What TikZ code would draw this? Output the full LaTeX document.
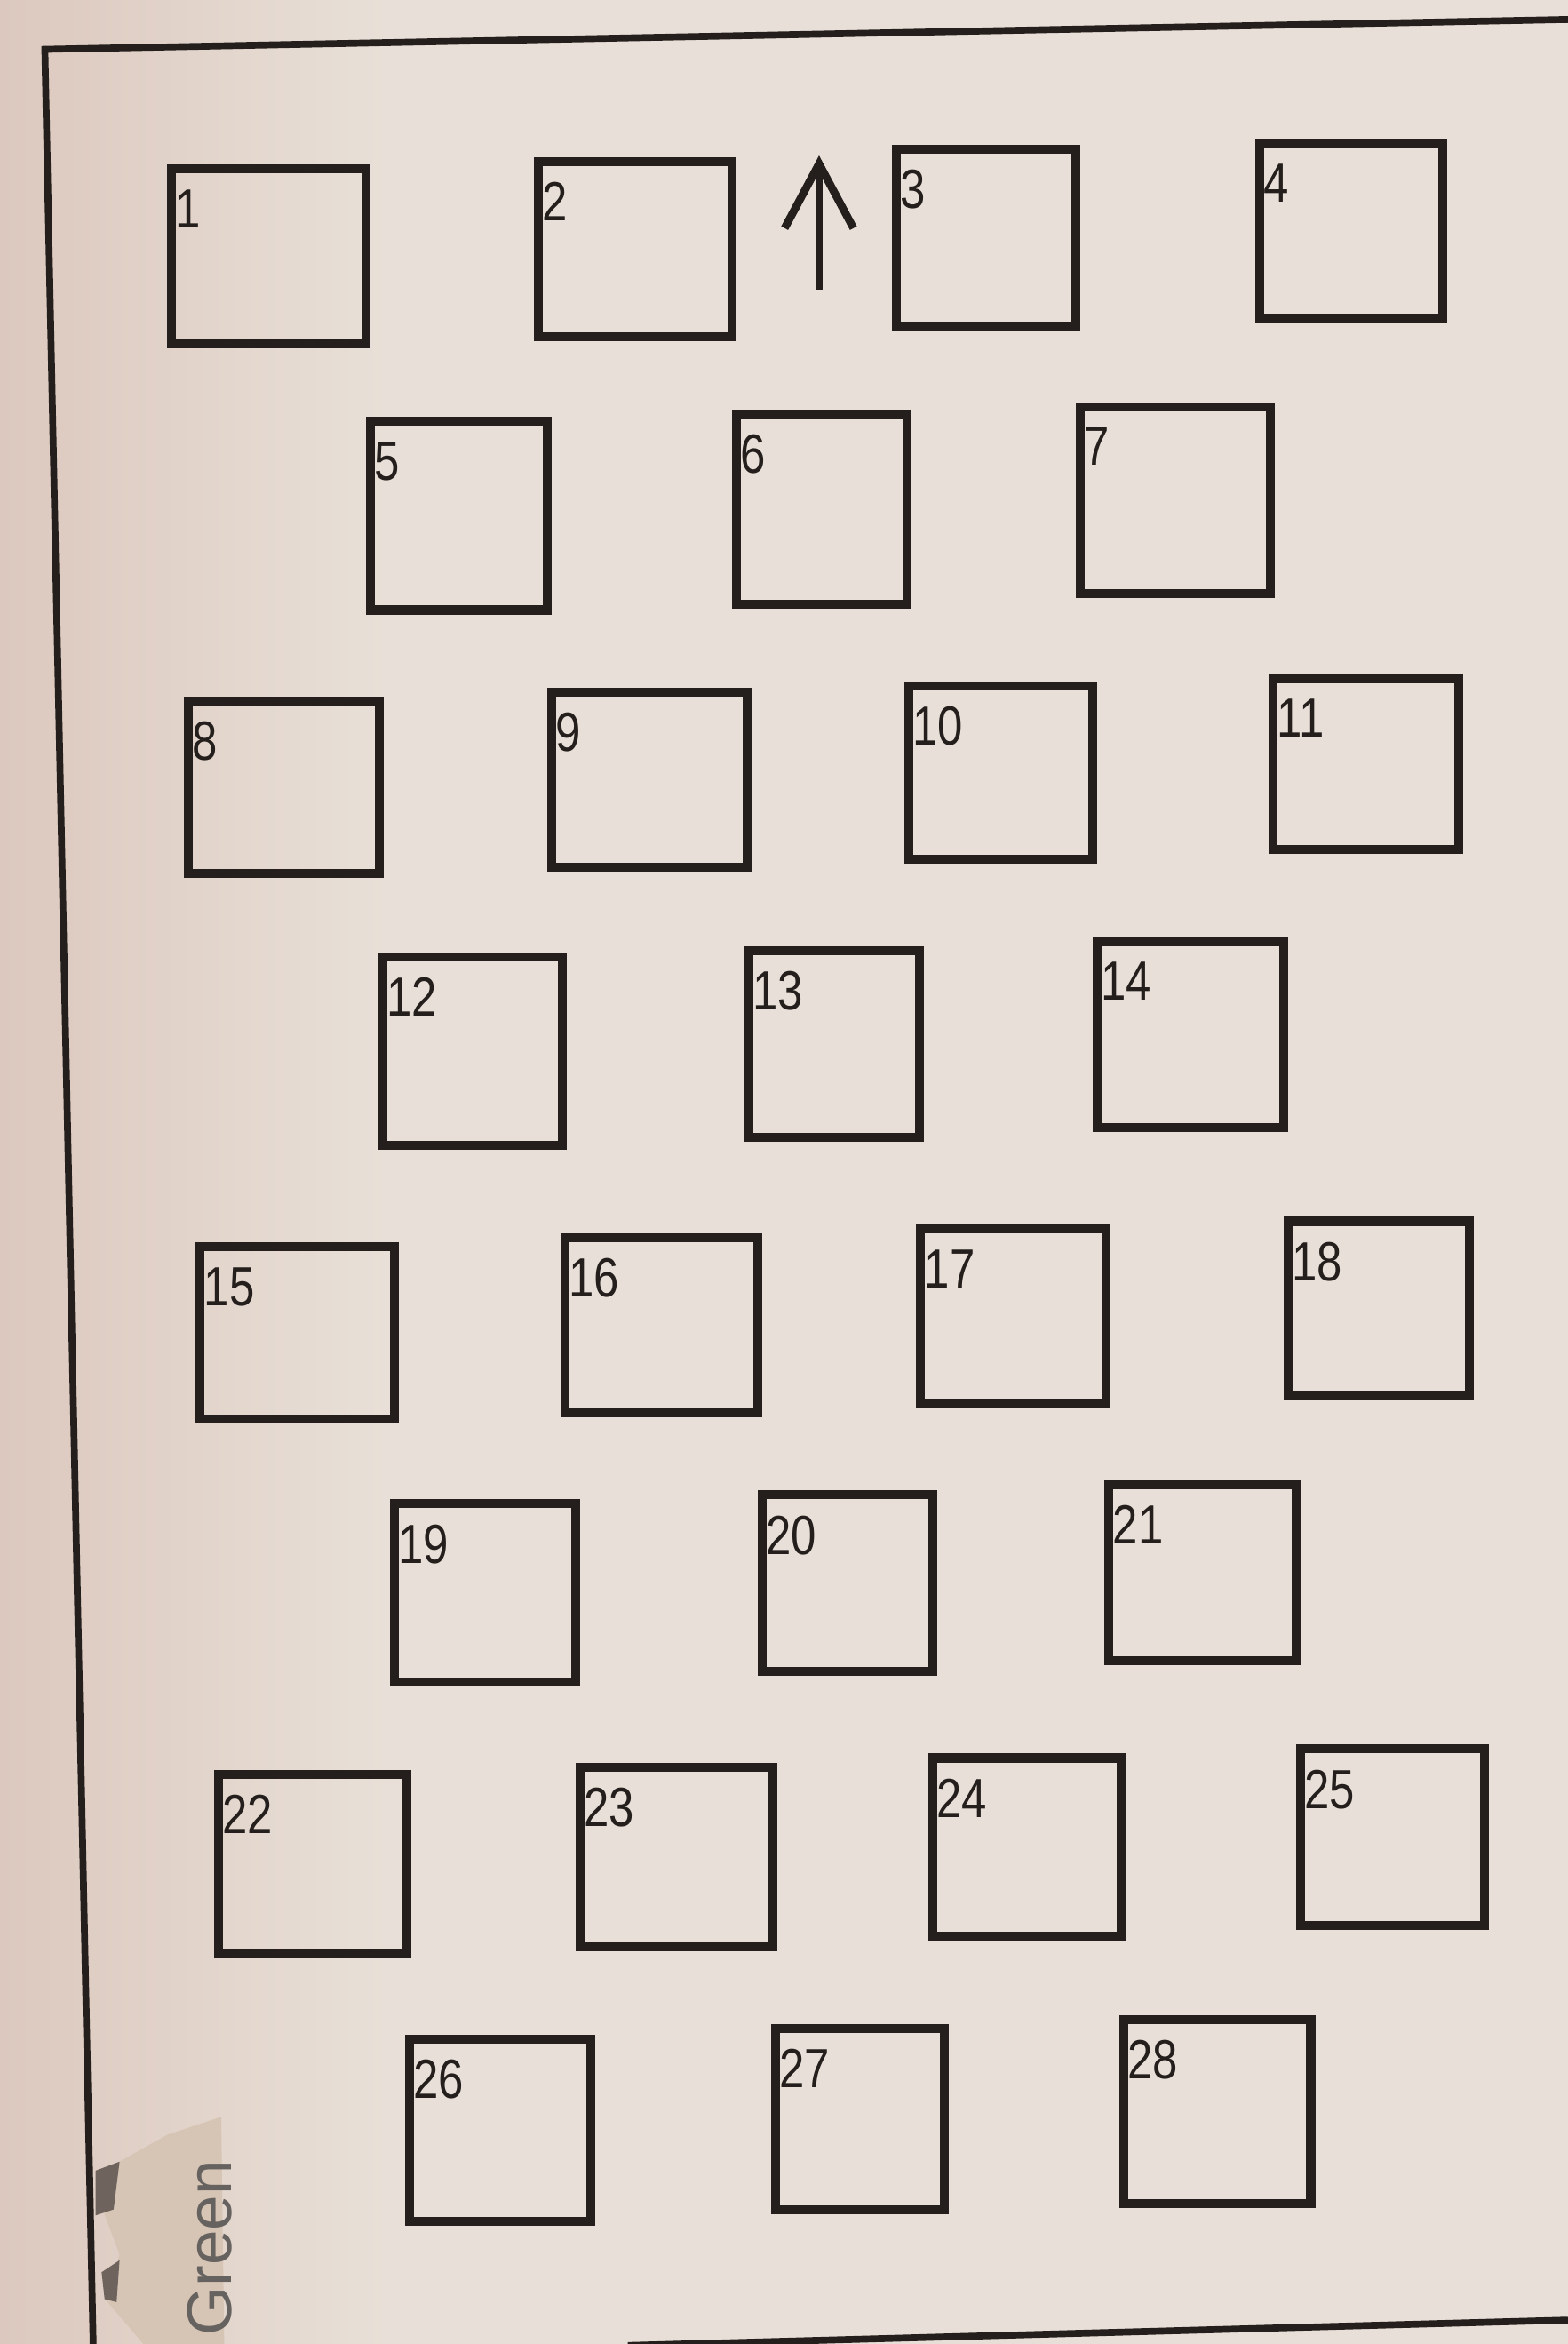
\documentclass[tikz,border=0pt]{standalone}
\usepackage{fontspec}
\setsansfont{Liberation Sans}
\newfontfamily\roomfont[FakeStretch=0.82]{Liberation Sans}
\usetikzlibrary{arrows.meta, positioning}
\definecolor{paper}{RGB}{232,224,216}
\definecolor{paperdark}{RGB}{220,200,190}
\definecolor{tear}{RGB}{214,196,180}
\definecolor{ink}{RGB}{36,31,28}
\tikzstyle{room} = [rectangle, draw=ink, line width=1.7pt, inner sep=0pt]
\tikzstyle{num} = [anchor=north west, inner xsep=1.4pt, inner ysep=4.6pt, text=ink, font=\roomfont\fontsize{10.5}{12}\selectfont]
\tikzstyle{wall} = [draw=ink, line width=1.3pt]
\tikzstyle{northarrow} = [draw=ink, line width=1.5pt, -{Straight Barb[length=0.43cm, width=0.46cm]}]
\tikzstyle{stamptext} = [text=ink!70, font=\sffamily\fontsize{12}{14}\selectfont, inner sep=0pt]

\begin{document}
\begin{tikzpicture}[x=0.01cm, y=-0.01cm]
    % === PAPER ===
    \fill[paper] (0,0) rectangle (1049,1568);
    \shade[left color=paperdark, right color=paper] (0,0) rectangle (260,1568);
    \useasboundingbox (0,0) rectangle (1049,1568);
    \clip (0,0) rectangle (1049,1568);

    % torn corner with the stamp
    \fill[tear] (148,1416) -- (112,1428) -- (80,1446) -- (68,1476) -- (80,1508) -- (72,1540) -- (96,1568) -- (150,1568) -- cycle;
    \fill[ink!60!paperdark] (64,1452) -- (80,1446) -- (76,1478) -- (64,1482) -- cycle;
    \fill[ink!60!paperdark] (68,1520) -- (80,1512) -- (78,1540) -- (70,1538) -- cycle;
    \node (stamp) [stamptext, rotate=90, anchor=base west] at (155,1563) {Green};

    % === FRAME ===
    \coordinate (ftl) at (30,33);
    \coordinate (ftr) at (1049,13);
    \coordinate (fbl) at (63,1600);
    \coordinate (fbs) at (420,1569);
    \coordinate (fbe) at (1049,1552);
    \draw[wall] (ftr) -- (ftl) -- (fbl);
    \draw[wall] (fbs) -- (fbe);

    % north arrow
    \coordinate (arrowfoot) at (548,194);
    \coordinate (arrowtip) at (548,104);
    \draw[northarrow] (arrowfoot) -- (arrowtip);

    % === ROOMS ===

    % Row 1
    \node (r1) [room, minimum width=1.30cm, minimum height=1.17cm] at (180,171.5) {};
    \node (t1) [num] at (r1.north west) {1};
    \node (r2) [room, minimum width=1.30cm, minimum height=1.17cm] at (425,166.5) {};
    \node (t2) [num] at (r2.north west) {2};
    \node (r3) [room, minimum width=1.20cm, minimum height=1.18cm] at (660,159) {};
    \node (t3) [num] at (r3.north west) {3};
    \node (r4) [room, minimum width=1.22cm, minimum height=1.17cm] at (904,154.5) {};
    \node (t4) [num] at (r4.north west) {4};

    % Row 2
    \node (r5) [room, minimum width=1.18cm, minimum height=1.26cm] at (307,345) {};
    \node (t5) [num] at (r5.north west) {5};
    \node (r6) [room, minimum width=1.14cm, minimum height=1.27cm] at (550,340.5) {};
    \node (t6) [num] at (r6.north west) {6};
    \node (r7) [room, minimum width=1.27cm, minimum height=1.25cm] at (786.5,334.5) {};
    \node (t7) [num] at (r7.north west) {7};

    % Row 3
    \node (r8) [room, minimum width=1.28cm, minimum height=1.15cm] at (190,526.5) {};
    \node (t8) [num] at (r8.north west) {8};
    \node (r9) [room, minimum width=1.31cm, minimum height=1.17cm] at (434.5,521.5) {};
    \node (t9) [num] at (r9.north west) {9};
    \node (r10) [room, minimum width=1.23cm, minimum height=1.16cm] at (669.5,517) {};
    \node (t10) [num] at (r10.north west) {10};
    \node (r11) [room, minimum width=1.24cm, minimum height=1.14cm] at (914,511) {};
    \node (t11) [num] at (r11.north west) {11};

    % Row 4
    \node (r12) [room, minimum width=1.20cm, minimum height=1.26cm] at (316,703) {};
    \node (t12) [num] at (r12.north west) {12};
    \node (r13) [room, minimum width=1.14cm, minimum height=1.25cm] at (558,698.5) {};
    \node (t13) [num] at (r13.north west) {13};
    \node (r14) [room, minimum width=1.25cm, minimum height=1.24cm] at (796.5,692) {};
    \node (t14) [num] at (r14.north west) {14};

    % Row 5
    \node (r15) [room, minimum width=1.30cm, minimum height=1.15cm] at (199,891.5) {};
    \node (t15) [num] at (r15.north west) {15};
    \node (r16) [room, minimum width=1.29cm, minimum height=1.17cm] at (442.5,886.5) {};
    \node (t16) [num] at (r16.north west) {16};
    \node (r17) [room, minimum width=1.24cm, minimum height=1.17cm] at (678,880.5) {};
    \node (t17) [num] at (r17.north west) {17};
    \node (r18) [room, minimum width=1.21cm, minimum height=1.17cm] at (922.5,875.5) {};
    \node (t18) [num] at (r18.north west) {18};

    % Row 6
    \node (r19) [room, minimum width=1.21cm, minimum height=1.19cm] at (324.5,1065.5) {};
    \node (t19) [num] at (r19.north west) {19};
    \node (r20) [room, minimum width=1.14cm, minimum height=1.18cm] at (567,1059) {};
    \node (t20) [num] at (r20.north west) {20};
    \node (r21) [room, minimum width=1.25cm, minimum height=1.18cm] at (804.5,1052) {};
    \node (t21) [num] at (r21.north west) {21};

    % Row 7
    \node (r22) [room, minimum width=1.26cm, minimum height=1.20cm] at (209,1247) {};
    \node (t22) [num] at (r22.north west) {22};
    \node (r23) [room, minimum width=1.29cm, minimum height=1.20cm] at (452.5,1242) {};
    \node (t23) [num] at (r23.north west) {23};
    \node (r24) [room, minimum width=1.26cm, minimum height=1.19cm] at (687,1235.5) {};
    \node (t24) [num] at (r24.north west) {24};
    \node (r25) [room, minimum width=1.23cm, minimum height=1.18cm] at (931.5,1229) {};
    \node (t25) [num] at (r25.north west) {25};

    % Row 8
    \node (r26) [room, minimum width=1.21cm, minimum height=1.22cm] at (334.5,1425) {};
    \node (t26) [num] at (r26.north west) {26};
    \node (r27) [room, minimum width=1.13cm, minimum height=1.21cm] at (575.5,1417.5) {};
    \node (t27) [num] at (r27.north west) {27};
    \node (r28) [room, minimum width=1.25cm, minimum height=1.23cm] at (814.5,1412.5) {};
    \node (t28) [num] at (r28.north west) {28};

\end{tikzpicture}
\end{document}
